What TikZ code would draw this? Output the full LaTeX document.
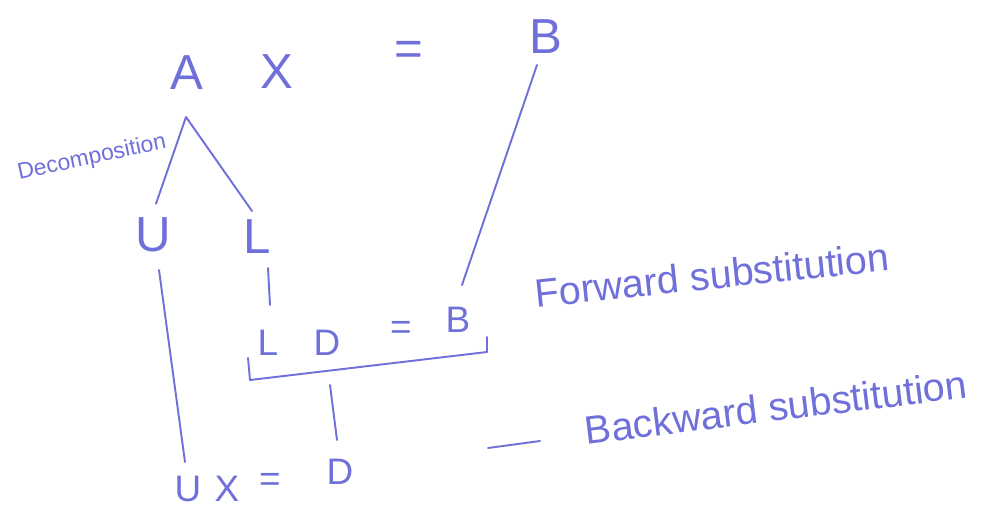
\documentclass[tikz,border=0pt]{standalone}
\usepackage{fontspec}
\setmainfont{Liberation Sans}
\usepackage{xcolor}
\usetikzlibrary{positioning}
\definecolor{ink}{RGB}{112,112,218}

\begin{document}
\begin{tikzpicture}[
    x=0.02cm, y=-0.02cm,
    big/.style={text=ink, font=\fontsize{28}{30}\selectfont, inner sep=1pt},
    mid/.style={text=ink, font=\fontsize{21}{24}\selectfont, inner sep=1pt},
    note/.style={text=ink, font=\fontsize{22.5}{25}\selectfont, inner sep=1pt},
    stroke/.style={draw=ink, line width=1.1pt, line cap=round, line join=round}
]
\useasboundingbox (0,0) rectangle (1001,517);

% top equation
\node[big] (A) at (187,73) {A};
\node[big] (X) at (277,72) {X};
\node[big] (eqtop) at (409,53) {=};
\node[big] (Btop) at (546,37) {B};

% decomposition
\node[text=ink, font=\fontsize{13}{15}\selectfont, rotate=12] (dec) at (92,158) {Decomposition};
\coordinate (apex) at (186,117);
\node[big] (U) at (153,235) {U};
\node[big] (L) at (257,237) {L};
\draw[stroke] (U.north) ++(3,-12) coordinate (uend) -- (apex) -- (252,211) coordinate (lend);

% forward substitution row
\node[mid] (Lrow) at (268,343) {L};
\node[mid] (Drow) at (327,343) {D};
\node[mid] (eqrow) at (401,330) {=};
\node[mid] (Brow) at (458,320) {B};
\coordinate (lbar) at (268,268);
\coordinate (lbarend) at (270,305);
\draw[stroke] (lbar) -- (lbarend);
\coordinate (btop) at (537,65);
\coordinate (bbot) at (462,285);
\draw[stroke] (btop) -- (bbot);
\draw[stroke] (248,358) -- (250,380) -- (487,352) -- (487,337);
\node[note, rotate=6] (fwd) at (712,275) {Forward substitution};

% backward substitution row
\node[mid] (Ubot) at (188,489) {U};
\node[mid] (Xbot) at (227,489) {X};
\node[mid] (eqbot) at (270,482) {=};
\node[mid] (Dbot) at (340,472) {D};
\coordinate (dbar) at (330,385);
\coordinate (dbarend) at (337,440);
\draw[stroke] (dbar) -- (dbarend);
\coordinate (uline) at (159,270);
\coordinate (ulineend) at (185,462);
\draw[stroke] (uline) -- (ulineend);
\coordinate (dash) at (488,448);
\coordinate (dashend) at (540,441);
\draw[stroke] (dash) -- (dashend);
\node[note, rotate=7] (bwd) at (776,407) {Backward substitution};
\end{tikzpicture}
\end{document}
